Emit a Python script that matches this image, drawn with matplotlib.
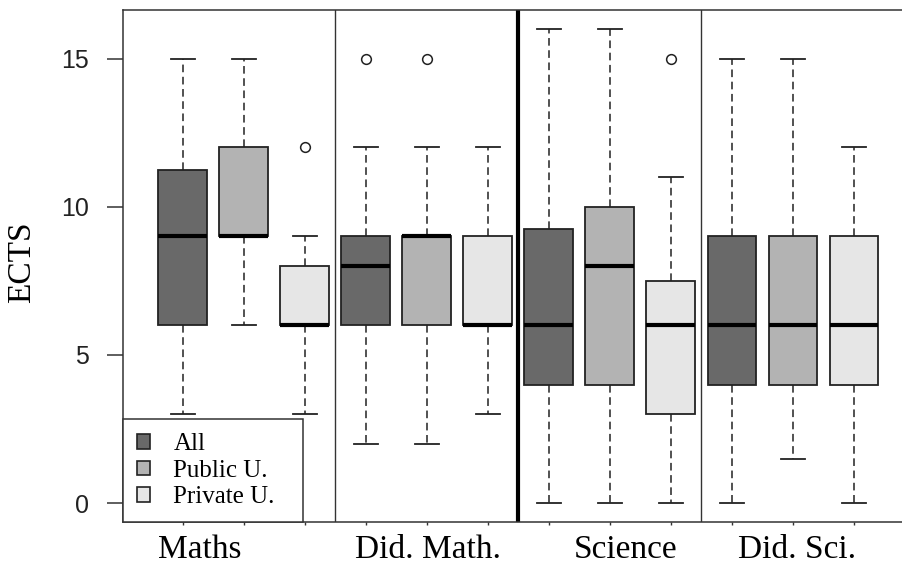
import matplotlib
matplotlib.use("Agg")
import matplotlib.pyplot as plt
from matplotlib.patches import Patch

# ECTS per subject area, three samples each
subjects = ["Maths", "Did. Math.", "Science", "Did. Sci."]
samples = ["All", "Public U.", "Private U."]
colors = ["#696969", "#b3b3b3", "#e6e6e6"]

# one entry per box, in subject order, All / Public / Private
whislo = [3, 6, 3,   2, 2, 3,   0, 0, 0,   0, 1.5, 0]
q1     = [6, 9, 6,   6, 6, 6,   4, 4, 3,   4, 4, 4]
med    = [9, 9, 6,   8, 9, 6,   6, 8, 6,   6, 6, 6]
q3     = [11.25, 12, 8,   9, 9, 9,   9.25, 10, 7.5,   9, 9, 9]
whishi = [15, 15, 9,   12, 12, 12,   16, 16, 11,   15, 15, 12]
fliers = [[], [], [12],   [15], [15], [],   [], [], [15],   [], [], []]

label_pos = [1.28, 5.02, 8.25, 11.07]     # where the group names sit under the axis

serif = ["Liberation Serif", "DejaVu Serif"]
sans = ["Liberation Sans", "DejaVu Sans"]
edge = "#222222"

stats = [dict(whislo=a, q1=b, med=c, q3=d, whishi=e, fliers=f)
         for a, b, c, d, e, f in zip(whislo, q1, med, q3, whishi, fliers)]
positions = list(range(1, len(stats) + 1))

fig = plt.figure(figsize=(9.03, 5.64), dpi=100)
ax = fig.add_axes([0.1362, 0.0745, 0.8757, 0.9078])

bp = ax.bxp(stats, positions=positions, widths=0.8, patch_artist=True,
            boxprops=dict(edgecolor=edge, linewidth=1.3),
            whiskerprops=dict(color=edge, linewidth=1.1, linestyle=(0, (5, 3))),
            capprops=dict(color=edge, linewidth=1.3),
            medianprops=dict(color="black", linewidth=3.0),
            flierprops=dict(marker="o", markerfacecolor="white", markeredgecolor=edge,
                            markersize=7, markeredgewidth=1.1))
for i, box in enumerate(bp["boxes"]):
    box.set_facecolor(colors[i % 3])

# group separators, the middle one heavy
for x, lw, c in [(3.5, 1.0, "#333333"), (6.5, 3.0, "black"), (9.5, 1.0, "#333333")]:
    ax.axvline(x, color=c, lw=lw, zorder=1)

ax.set_xlim(0.02, 12.98)
ax.set_ylim(-0.64, 16.64)
ax.set_yticks([0, 5, 10, 15])
ax.set_yticklabels(["0", "5", "10", "15"], fontfamily=sans, fontsize=18, color="#222222")
ax.tick_params(axis="y", length=11.5, width=1.1, pad=13, color="#333333")
ax.set_xticks(positions)
ax.set_xticklabels([""] * len(positions))
ax.tick_params(axis="x", length=2.5, width=1.0, color="#333333")
for s in ax.spines.values():
    s.set_linewidth(1.1)
    s.set_color("#333333")

for name, x in zip(subjects, label_pos):
    ax.annotate(name, xy=(x, 0), xycoords=("data", "axes fraction"),
                xytext=(0, -26), textcoords="offset points",
                ha="center", va="baseline", fontsize=24, fontfamily=serif)

ax.set_ylabel("ECTS", fontsize=24, fontfamily=serif)
ax.yaxis.set_label_coords(-0.109, 0.508)

handles = [Patch(facecolor=c, edgecolor=edge, linewidth=1.2) for c in colors]
leg = ax.legend(handles, samples, loc="lower left", bbox_to_anchor=(0, 0, 0.2276, 0.2),
                mode="expand", borderaxespad=0, borderpad=0.55, labelspacing=0.18,
                handlelength=0.52, handleheight=0.52, handletextpad=0.95,
                prop=dict(family=serif, size=18), fancybox=False, framealpha=1)
leg.get_frame().set_edgecolor("#333333")
leg.get_frame().set_linewidth(1.1)

fig.savefig("out.png", dpi=100)
